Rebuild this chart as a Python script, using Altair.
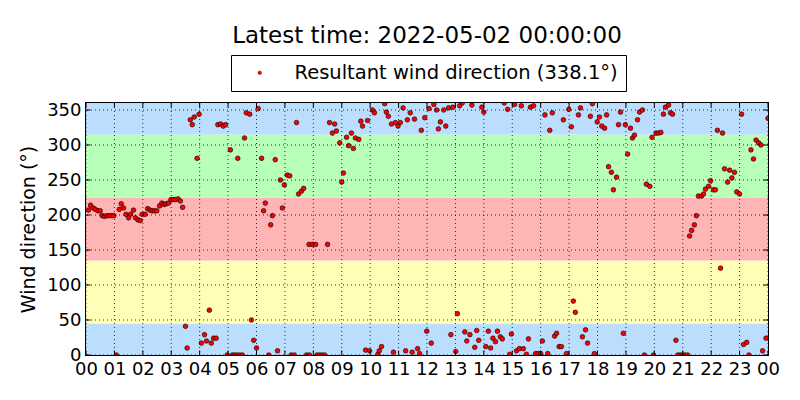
import altair as alt
import pandas as pd

title_text = "Latest time: 2022-05-02 00:00:00"
series_label = "Resultant wind direction (338.1°)"
y_title = "Wind direction (°)"

# decimal hours since 2022-05-01 00:00 and resultant wind direction (deg)
hours = [
    0.09, 0.16, 0.26, 0.33, 0.42, 0.50, 0.57, 0.65, 0.73, 0.81, 0.90, 0.98,
    1.07, 1.17, 1.24, 1.32, 1.41, 1.50, 1.57, 1.67, 1.74, 1.83, 1.91, 1.98,
    2.08, 2.17, 2.25, 2.33, 2.41, 2.49, 2.59, 2.67, 2.75, 2.82, 2.90, 2.99,
    3.07, 3.15, 3.24, 3.32, 3.40, 3.50, 3.56, 3.67, 3.74, 3.81, 3.91, 3.98,
    4.06, 4.17, 4.24, 4.34, 4.41, 4.49, 4.58, 4.64, 4.74, 4.83, 4.91, 4.97,
    5.08, 5.15, 5.23, 5.31, 5.34, 5.41, 5.50, 5.58, 5.64, 5.76, 5.82, 5.90,
    6.00, 6.06, 6.18, 6.25, 6.31, 6.43, 6.50, 6.56, 6.66, 6.74, 6.84, 6.91,
    6.98, 7.08, 7.17, 7.22, 7.33, 7.41, 7.48, 7.58, 7.66, 7.76, 7.85, 7.86,
    7.97, 8.08, 8.13, 8.22, 8.31, 8.40, 8.50, 8.57, 8.67, 8.75, 8.81, 8.93,
    9.00, 9.06, 9.17, 9.24, 9.34, 9.41, 9.48, 9.60, 9.67, 9.73, 9.84, 9.91,
    9.98, 10.08, 10.15, 10.27, 10.32, 10.40, 10.51, 10.57, 10.64, 10.75, 10.82, 10.89,
    10.98, 11.06, 11.16, 11.25, 11.31, 11.41, 11.48, 11.56, 11.67, 11.74, 11.80, 11.92,
    11.99, 12.07, 12.15, 12.24, 12.34, 12.40, 12.47, 12.59, 12.66, 12.76, 12.84, 12.91,
    13.01, 13.07, 13.15, 13.24, 13.33, 13.40, 13.51, 13.58, 13.68, 13.75, 13.82, 13.93,
    14.00, 14.07, 14.16, 14.24, 14.32, 14.41, 14.48, 14.58, 14.65, 14.72, 14.84, 14.91,
    14.97, 15.08, 15.15, 15.25, 15.32, 15.39, 15.50, 15.57, 15.64, 15.75, 15.82, 15.91,
    16.00, 16.06, 16.15, 16.25, 16.32, 16.41, 16.49, 16.56, 16.65, 16.73, 16.80, 16.91,
    16.99, 17.08, 17.15, 17.22, 17.33, 17.40, 17.47, 17.58, 17.65, 17.75, 17.82, 17.89,
    17.99, 18.07, 18.15, 18.25, 18.32, 18.39, 18.49, 18.56, 18.67, 18.74, 18.81, 18.91,
    18.98, 19.06, 19.16, 19.23, 19.30, 19.41, 19.48, 19.58, 19.65, 19.72, 19.84, 19.92,
    19.97, 20.06, 20.14, 20.23, 20.32, 20.39, 20.50, 20.57, 20.64, 20.76, 20.83, 20.91,
    21.00, 21.07, 21.17, 21.24, 21.31, 21.41, 21.48, 21.55, 21.66, 21.73, 21.80, 21.91,
    21.98, 22.08, 22.15, 22.22, 22.33, 22.40, 22.47, 22.58, 22.65, 22.73, 22.82, 22.90,
    23.00, 23.07, 23.14, 23.25, 23.33, 23.40, 23.49, 23.58, 23.67, 23.75, 23.81, 23.93,
    24.00,
]
directions = [
    207, 214, 210, 208, 206, 206, 199, 198, 199, 199, 199, 199,
    0, 208, 216, 210, 201, 196, 201, 207, 196, 193, 192, 201,
    201, 209, 207, 206, 206, 206, 213, 217, 215, 216, 217, 222,
    222, 222, 223, 220, 211, 41, 10, 336, 329, 340, 281, 344,
    17, 29, 20, 64, 17, 24, 24, 329, 330, 327, 329, 0,
    293, 0, 0, 0, 281, 0, 0, 310, 346, 344, 50, 21,
    10, 352, 281, 206, 217, 0, 186, 199, 279, 6, 250, 210,
    243, 257, 256, 0, 0, 332, 230, 234, 238, 0, 158, 0,
    158, 158, 0, 0, 0, 0, 158, 332, 317, 330, 320, 303,
    247, 260, 311, 299, 317, 295, 310, 308, 334, 327, 7, 335,
    6, 350, 346, 1, 6, 12, 359, 347, 341, 330, 4, 332,
    327, 332, 353, 6, 336, 346, 4, 337, 9, 2, 321, 339,
    34, 352, 17, 358, 350, 323, 333, 350, 327, 353, 29, 354,
    5, 59, 356, 360, 33, 20, 29, 357, 11, 35, 21, 354,
    347, 12, 34, 10, 24, 19, 34, 26, 23, 360, 351, 1,
    30, 358, 6, 9, 356, 9, 1, 23, 354, 356, 2, 2,
    2, 20, 343, 2, 321, 346, 27, 31, 12, 12, 336, 2,
    351, 326, 77, 61, 343, 353, 26, 36, 17, 341, 359, 2,
    333, 340, 327, 324, 343, 269, 261, 236, 254, 329, 347, 31,
    329, 287, 324, 310, 314, 336, 347, 350, 0, 244, 241, 311,
    0, 317, 317, 318, 344, 354, 357, 346, 344, 21, 0, 0,
    0, 0, 0, 170, 178, 186, 199, 227, 227, 230, 237, 241,
    249, 236, 236, 321, 124, 317, 266, 247, 264, 253, 261, 233,
    230, 344, 15, 18, 0, 293, 280, 307, 303, 300, 6, 24,
    338.1,
]

band_low = [0, 45, 135, 225, 315]
band_high = [45, 135, 225, 315, 360]
band_colors = ["#bbdeff", "#ffffb5", "#ffb5b5", "#b8ffb8", "#bbdeff"]

x_ticks = list(range(0, 25))
y_ticks = list(range(0, 351, 50))

points_df = pd.DataFrame({"hour": hours, "direction": directions, "series": series_label})
bands_df = pd.DataFrame({"low": band_low, "high": band_high, "color": band_colors})
xt_df = pd.DataFrame({"t": x_ticks})
yt_df = pd.DataFrame({"v": y_ticks})

FONT = "DejaVu Sans"
W, H = 682, 252
TICK = 4.5

x_scale = alt.Scale(domain=[0, 24], nice=False, zero=False)
y_scale = alt.Scale(domain=[0, 360], nice=False, zero=False)

x_axis = alt.Axis(
    values=x_ticks,
    title=None,
    labelExpr="(datum.value % 24) < 10 ? '0' + (datum.value % 24) : '' + (datum.value % 24)",
    labelFlush=False,
    labelOverlap=False,
)
y_axis = alt.Axis(
    values=y_ticks,
    title=y_title,
    titleX=-58,
    titleY=126,
    titleAngle=270,
    titleBaseline="middle",
    titleAlign="center",
    labelOverlap=False,
)

bands = alt.Chart(bands_df).mark_rect().encode(
    x=alt.datum(0, scale=x_scale, axis=x_axis),
    x2=alt.datum(24),
    y=alt.Y("low:Q", scale=y_scale, axis=y_axis),
    y2="high:Q",
    fill=alt.Fill("color:N", scale=None),
)

points = alt.Chart(points_df).mark_circle(
    size=22, stroke="black", strokeWidth=0.6, opacity=1, clip=True
).encode(
    x=alt.X("hour:Q", scale=x_scale, axis=x_axis),
    y=alt.Y("direction:Q", scale=y_scale, axis=y_axis),
    fill=alt.Fill(
        "series:N",
        scale=alt.Scale(range=["red"]),
        legend=alt.Legend(
            title=None,
            orient="none",
            legendX=145,
            legendY=-48,
            fillColor="white",
            strokeColor="black",
            padding=8,
            cornerRadius=0,
            labelFont=FONT,
            labelFontSize=19.5,
            labelColor="black",
            labelLimit=1000,
            labelOffset=25,
            symbolOffset=11,
            symbolSize=14,
            symbolType="circle",
            symbolStrokeColor="black",
            symbolStrokeWidth=0.3,
        ),
    ),
)

grid_style = dict(color="black", strokeDash=[1, 3], strokeWidth=0.9, opacity=0.9)
vgrid = alt.Chart(xt_df).mark_rule(**grid_style).encode(
    x=alt.X("t:Q", scale=x_scale, axis=x_axis)
)
hgrid = alt.Chart(yt_df).mark_rule(**grid_style).encode(
    y=alt.Y("v:Q", scale=y_scale, axis=y_axis)
)

tick_style = dict(color="black", strokeWidth=1)
xticks_bottom = alt.Chart(xt_df).mark_rule(**tick_style).encode(
    x=alt.X("t:Q", scale=x_scale, axis=x_axis), y=alt.value(H), y2=alt.value(H - TICK)
)
xticks_top = alt.Chart(xt_df).mark_rule(**tick_style).encode(
    x=alt.X("t:Q", scale=x_scale, axis=x_axis), y=alt.value(0), y2=alt.value(TICK)
)
yticks_left = alt.Chart(yt_df).mark_rule(**tick_style).encode(
    y=alt.Y("v:Q", scale=y_scale, axis=y_axis), x=alt.value(0), x2=alt.value(TICK)
)
yticks_right = alt.Chart(yt_df).mark_rule(**tick_style).encode(
    y=alt.Y("v:Q", scale=y_scale, axis=y_axis), x=alt.value(W), x2=alt.value(W - TICK)
)

chart = alt.layer(
    bands, points, vgrid, hgrid, xticks_bottom, xticks_top, yticks_left, yticks_right
).properties(
    width=W,
    height=H,
    background="white",
    autosize=alt.AutoSizeParams(type="none"),
    padding={"left": 78, "top": 95, "right": 20, "bottom": 35},
    title=alt.TitleParams(
        title_text,
        font=FONT,
        fontSize=23,
        fontWeight="normal",
        color="black",
        anchor="middle",
        offset=7,
    ),
).configure_view(
    stroke="black", strokeWidth=2
).configure_axis(
    labelFont=FONT,
    labelFontSize=18,
    labelColor="black",
    titleFont=FONT,
    titleFontSize=19,
    titleFontWeight="normal",
    titleColor="black",
    domain=True,
    domainColor="black",
    domainWidth=1,
    ticks=False,
    grid=False,
    labelPadding=5,
    zindex=1,
)

chart.save("out.html", embed_options={"renderer": "svg", "actions": False})
